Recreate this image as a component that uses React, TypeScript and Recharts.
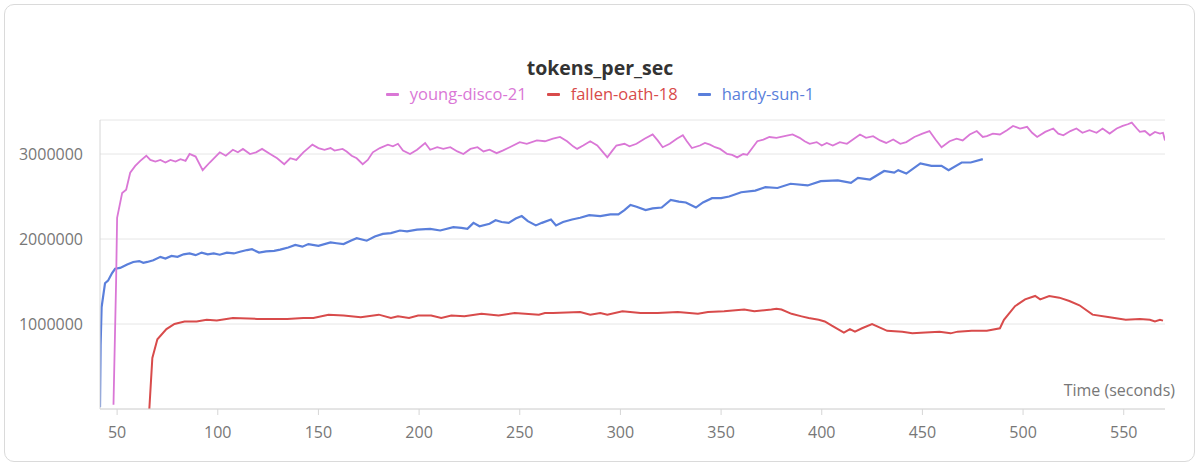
import React from "react";
import { LineChart, Line, XAxis, YAxis, CartesianGrid } from "recharts";

// [time (s), tokens/sec in thousands]
const youngDisco21: [number, number][] = [
  [48.2, 50], [49.5, 1500], [50, 2250], [52.5, 2540], [54.5, 2580], [56.5, 2780], [59, 2860], [61.5, 2920],
  [64.5, 2980], [66.5, 2930], [69, 2910], [71.5, 2930], [74, 2900], [76.5, 2930], [79, 2910], [81.5, 2940],
  [84, 2920], [86, 3000], [89, 2970], [92.5, 2810], [96, 2900], [101, 3020], [104, 2980], [107.5, 3050],
  [110, 3020], [112.5, 3060], [116, 3000], [119, 3020], [122, 3060], [126, 3000], [129.5, 2950], [133, 2880],
  [136, 2950], [139, 2930], [142.5, 3020], [147, 3110], [150, 3070], [153, 3050], [156, 3070], [158, 3040],
  [162, 3060], [164, 3030], [166.5, 2980], [169, 2950], [172, 2880], [174.5, 2930], [177, 3020], [180.5, 3070],
  [184.5, 3110], [187, 3090], [189.5, 3120], [192, 3040], [195.5, 3000], [199, 3050], [203, 3130], [205.5, 3050],
  [209, 3080], [212, 3060], [215.5, 3080], [219, 3030], [222, 3000], [225.5, 3060], [229, 3080], [232, 3030],
  [235, 3050], [238.5, 3010], [241.5, 3040], [245, 3080], [250, 3140], [253.5, 3120], [258.5, 3160], [262.5, 3150],
  [266.5, 3180], [270, 3200], [273.5, 3150], [276.5, 3090], [278.5, 3060], [281.5, 3100], [285, 3150], [288.5, 3100],
  [291, 3030], [293.5, 2960], [296, 3040], [298, 3100], [302, 3120], [304.5, 3090], [308, 3120], [312, 3180],
  [316, 3230], [318.5, 3160], [321, 3080], [324.5, 3120], [328, 3180], [331, 3220], [333, 3150], [335.5, 3070],
  [339.5, 3100], [342, 3130], [344.5, 3110], [347, 3080], [349.5, 3060], [353, 3000], [355.5, 2990], [358, 2960],
  [361, 3000], [363, 2990], [365.5, 3070], [368, 3150], [371, 3170], [374, 3200], [377.5, 3190], [381.5, 3210],
  [385.5, 3230], [389, 3190], [391.5, 3150], [394, 3120], [397.5, 3140], [400, 3100], [402.5, 3130], [405.5, 3100],
  [409, 3140], [412.5, 3120], [415.5, 3170], [419, 3230], [422, 3190], [425.5, 3210], [429, 3160], [432, 3130],
  [435.5, 3170], [439, 3120], [442, 3140], [446, 3200], [450, 3240], [453.5, 3270], [456.5, 3170], [459.5, 3080],
  [463.5, 3150], [467, 3180], [470, 3160], [473.5, 3230], [477, 3270], [480, 3200], [482, 3210], [485, 3240],
  [488.5, 3230], [492, 3280], [495, 3330], [498.5, 3300], [502, 3320], [504.5, 3250], [507, 3200], [511, 3260],
  [515, 3300], [517.5, 3240], [520, 3220], [523.5, 3270], [526.5, 3300], [529.5, 3250], [533, 3280], [536.5, 3250],
  [539.5, 3300], [543, 3240], [546.5, 3300], [549.5, 3330], [552, 3350], [554, 3370], [556.5, 3300], [558, 3260],
  [560.5, 3270], [563, 3220], [565.5, 3260], [568, 3240], [569.5, 3250], [570.5, 3160],
];

const fallenOath18: [number, number][] = [
  [66, 0], [67.5, 600], [70, 820], [74.5, 940], [78.5, 1000], [83.5, 1030], [89.5, 1030], [94.5, 1050],
  [99.5, 1040], [107.5, 1070], [119.5, 1060], [134.5, 1060], [142.5, 1070], [147.5, 1070], [155, 1110], [162.5, 1100],
  [171, 1080], [180, 1110], [186, 1070], [189.5, 1090], [195, 1070], [199.5, 1100], [206, 1100], [211, 1070],
  [216, 1100], [222.5, 1090], [231, 1120], [239.5, 1100], [247.5, 1130], [259.5, 1110], [262.5, 1130], [266.5, 1130],
  [280, 1140], [285, 1110], [290, 1130], [293.5, 1110], [301, 1150], [310, 1130], [318.5, 1130], [328.5, 1140],
  [338.5, 1120], [343.5, 1140], [351.5, 1150], [361.5, 1170], [366.5, 1150], [375, 1170], [377.5, 1180], [380, 1170],
  [385, 1120], [390, 1090], [393.5, 1070], [398.5, 1050], [401.5, 1030], [405, 980], [411, 900], [414, 940],
  [416.5, 910], [420, 950], [425, 1000], [432.5, 920], [440, 910], [445, 890], [451.5, 900], [458.5, 910],
  [464, 890], [467.5, 910], [474.5, 920], [482, 920], [488.5, 950], [490.5, 1050], [496, 1210], [501, 1290],
  [506, 1330], [508.5, 1290], [513, 1330], [518, 1310], [523, 1270], [528, 1220], [534.5, 1110], [543, 1080],
  [551, 1050], [558, 1060], [563, 1050], [565.5, 1030], [568, 1050], [569.5, 1040],
];

const hardySun1: [number, number][] = [
  [41.5, 20], [41.8, 750], [42.3, 1200], [44, 1480], [45.5, 1510], [47.5, 1600], [49, 1650], [51.5, 1660],
  [55, 1700], [58, 1730], [61, 1740], [63, 1720], [65, 1730], [68, 1750], [71.5, 1790], [74, 1770],
  [77, 1800], [80, 1790], [83, 1820], [86, 1830], [89, 1810], [92, 1840], [95, 1820], [98, 1830],
  [101, 1815], [104.5, 1840], [108, 1830], [111, 1850], [114.5, 1870], [117, 1880], [120.5, 1840], [124, 1855],
  [128, 1860], [131, 1875], [135, 1900], [138.5, 1930], [142, 1910], [145, 1940], [150, 1920], [156, 1960],
  [159, 1950], [162.5, 1940], [166, 1980], [169, 2010], [174, 1980], [178, 2030], [182, 2060], [186, 2070],
  [190.5, 2100], [194, 2090], [199, 2110], [205.5, 2120], [210.5, 2100], [217, 2140], [221, 2130], [224, 2120],
  [227, 2190], [230, 2150], [235, 2180], [238, 2220], [241, 2200], [244.5, 2190], [248, 2240], [251, 2270],
  [254, 2210], [258, 2160], [261, 2190], [265.5, 2230], [268, 2160], [271.5, 2200], [276, 2230], [280, 2250],
  [284.5, 2280], [290, 2270], [295, 2290], [299, 2290], [302, 2340], [305, 2400], [308, 2380], [312.5, 2340],
  [316, 2360], [320.5, 2370], [325, 2460], [329, 2440], [332.5, 2430], [337.5, 2370], [341, 2430], [345.5, 2480],
  [350, 2480], [354, 2500], [360, 2550], [367, 2570], [372, 2610], [378, 2600], [384.5, 2650], [393, 2630],
  [399.5, 2680], [408, 2690], [414.5, 2660], [418, 2720], [424, 2700], [431, 2800], [436, 2780], [438, 2810],
  [442, 2770], [449, 2890], [454.5, 2860], [459.5, 2860], [463, 2810], [469.5, 2900], [474, 2900], [480, 2940],
];

const xTicks = [50, 100, 150, 200, 250, 300, 350, 400, 450, 500, 550];
const yTicks = [1000000, 2000000, 3000000];

const series = [
  { name: "young-disco-21", color: "#da77d6", width: 1.8, points: youngDisco21 },
  { name: "fallen-oath-18", color: "#d84b4b", width: 2, points: fallenOath18 },
  { name: "hardy-sun-1", color: "#5a7fdb", width: 2.2, points: hardySun1 },
];

const toRows = (pts: [number, number][]) => pts.map(([t, v]) => ({ t, v: v * 1000 }));

const font = "'Open Sans', sans-serif";

function TimeLabel({ viewBox }: any) {
  const { x, y, width } = viewBox;
  return (
    <text x={x + width + 10} y={y - 13} textAnchor="end" fill="#777" fontSize={16} fontFamily={font}>
      Time (seconds)
    </text>
  );
}

export default function App() {
  return (
    <div style={{ position: "absolute", left: 0, top: 0, width: 1200, height: 466, background: "#fff", fontFamily: font }}>
      <div
        style={{
          position: "absolute", left: 4, top: 4, width: 1189, height: 456,
          border: "1.5px solid #dadada", borderRadius: 10,
        }}
      />
      <div style={{ position: "absolute", left: 0, width: 1200, top: 55, textAlign: "center", fontSize: 19.5, fontWeight: 700, color: "#333", lineHeight: "26px" }}>
        tokens_per_sec
      </div>
      <div style={{ position: "absolute", left: 0, width: 1200, top: 83, display: "flex", justifyContent: "center", fontSize: 16.5, lineHeight: "22px" }}>
        {series.map((s) => (
          <span key={s.name} style={{ display: "flex", alignItems: "center", margin: "0 10px", color: s.color }}>
            <span style={{ display: "inline-block", width: 13, height: 3, background: s.color, marginRight: 11, borderRadius: 1 }} />
            {s.name}
          </span>
        ))}
      </div>
      <div style={{ position: "absolute", left: 4, top: 4 }}>
        <LineChart width={1191} height={458} margin={{ top: 116, right: 30, bottom: 23, left: 16 }}>
          <CartesianGrid vertical={false} stroke="#e6e6e6" />
          <XAxis
            type="number"
            dataKey="t"
            domain={[41.5, 570.5]}
            ticks={xTicks}
            allowDataOverflow
            height={30}
            stroke="#d6d6d6"
            tickSize={6}
            tickMargin={12}
            tick={{ fill: "#777", fontSize: 16, fontFamily: font }}
            label={<TimeLabel />}
          />
          <YAxis
            type="number"
            domain={[0, 3400000]}
            ticks={yTicks}
            allowDataOverflow
            width={80}
            stroke="#d6d6d6"
            tickLine={false}
            tickSize={0}
            tickMargin={17}
            tick={{ fill: "#777", fontSize: 16, fontFamily: font }}
            tickFormatter={(v) => String(v)}
          />
          {series.slice().reverse().map((s) => (
            <Line
              key={s.name}
              data={toRows(s.points)}
              dataKey="v"
              name={s.name}
              type="linear"
              stroke={s.color}
              strokeWidth={s.width}
              dot={false}
              isAnimationActive={false}
            />
          ))}
        </LineChart>
      </div>
    </div>
  );
}
